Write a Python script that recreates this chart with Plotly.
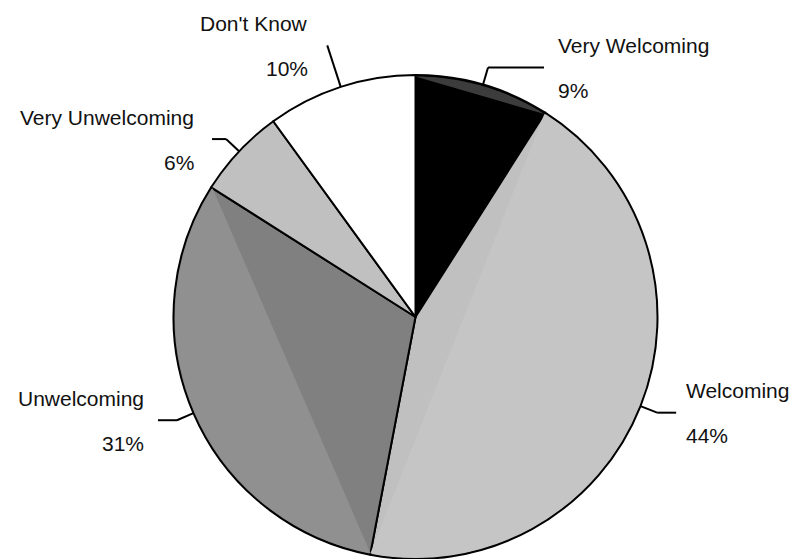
import math
import plotly.graph_objects as go

# Survey responses
labels = ["Very Welcoming", "Welcoming", "Unwelcoming", "Very Unwelcoming", "Don't Know"]
values = [9, 44, 31, 6, 10]
colors = ["#000000", "#c0c0c0", "#808080", "#c0c0c0", "#ffffff"]
# slightly lighter shading on the outer rim segment of each slice (None = no rim)
rim_colors = ["#3c3c3c", "#c5c5c5", "#909090", None, None]

W, H = 791, 559
CX, CY, R = 415.5, 317.0, 242.0   # pie centre and radius in pixels
FONT = dict(family="Arial, Liberation Sans, sans-serif", size=21, color="#111111")
LINE_W = 2.0

# leader-line styling per slice: (horizontal run in px, +1 right / -1 left, text gap)
leader = {
    "Very Welcoming": (56, 1, 12),
    "Welcoming": (19, 1, 8),
    "Unwelcoming": (19, -1, 12),
    "Very Unwelcoming": (14, -1, 16),
    "Don't Know": (0, -1, 17),
}


def px(x):
    return x / W


def py(y):
    return 1 - y / H


def polar(theta_deg, r):
    t = math.radians(theta_deg)
    return CX + r * math.sin(t), CY - r * math.cos(t)


total = sum(values)
fig = go.Figure(go.Pie(
    labels=labels, values=values, sort=False, direction="clockwise", rotation=0,
    marker=dict(colors=colors, line=dict(color="black", width=LINE_W)),
    textinfo="none", showlegend=False, hoverinfo="label+percent",
    domain=dict(x=[px(CX - R), px(CX + R)], y=[py(CY + R), py(CY - R)]),
))

shapes, annotations = [], []
cum = 0.0
for lab, v, rim in zip(labels, values, rim_colors):
    a0 = 360 * cum / total
    a1 = 360 * (cum + v) / total
    mid = (a0 + a1) / 2
    cum += v

    # outer rim segment between chord and arc
    if rim:
        pts = [polar(a0 + (a1 - a0) * k / 40, R - 1.5) for k in range(41)]
        path = "M " + " L ".join(f"{px(x):.5f},{py(y):.5f}" for x, y in pts) + " Z"
        shapes.append(dict(type="path", path=path, xref="paper", yref="paper",
                           fillcolor=rim, line=dict(width=0), layer="above"))

    run, side, gap = leader[lab]
    ex, ey = polar(mid, R)
    if run:
        bx, by = polar(mid, R * 1.074)
        hx = bx + side * run
        segs = [(ex, ey, bx, by), (bx, by, hx, by)]
        tx, ty = hx + side * gap, by
    else:
        bx, by = polar(mid, R * 1.18)
        segs = [(ex, ey, bx, by)]
        tx, ty = bx + side * gap, by
    for x0, y0, x1, y1 in segs:
        shapes.append(dict(type="line", xref="paper", yref="paper",
                           x0=px(x0), y0=py(y0), x1=px(x1), y1=py(y1),
                           line=dict(color="black", width=LINE_W), layer="above"))
    anchor = "left" if side > 0 else "right"
    pct = f"{round(100 * v / total)}%"
    for text, dy in ((lab, -22), (pct, 23)):
        annotations.append(dict(text=text, x=px(tx), y=py(ty + dy), xref="paper", yref="paper",
                                xanchor=anchor, yanchor="middle", showarrow=False, font=FONT))

fig.update_layout(
    width=W, height=H, margin=dict(l=0, r=0, t=0, b=0),
    paper_bgcolor="white", plot_bgcolor="white",
    shapes=shapes, annotations=annotations,
)
fig.write_html("out.html")
